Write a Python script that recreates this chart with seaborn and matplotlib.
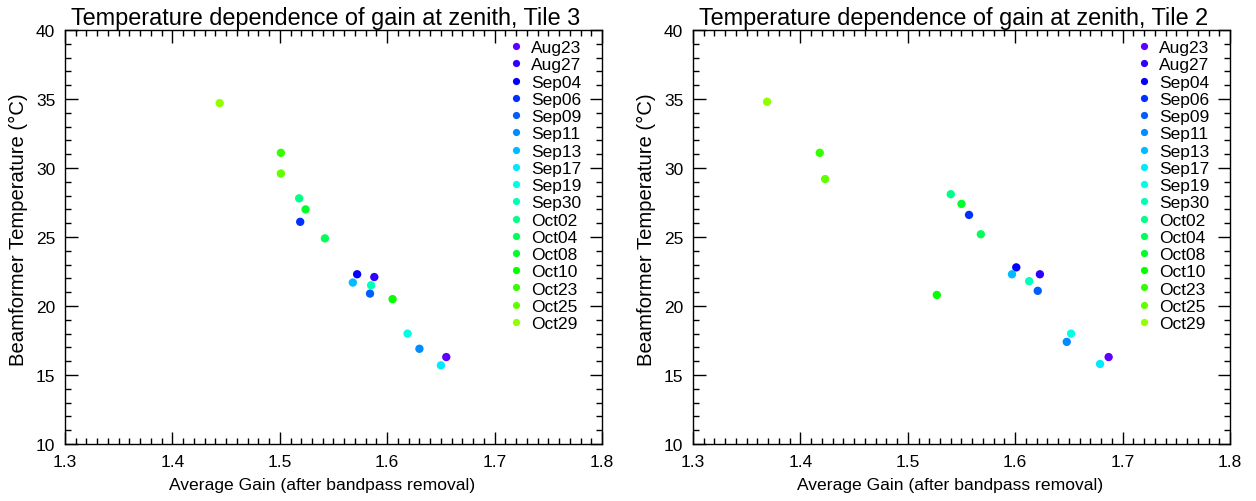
import numpy as np
import pandas as pd
import matplotlib
matplotlib.use("Agg")
import matplotlib.pyplot as plt
import seaborn as sns
from matplotlib.ticker import MultipleLocator
from matplotlib.lines import Line2D
import colorsys

dates = ["Aug23", "Aug27", "Sep04", "Sep06", "Sep09", "Sep11", "Sep13", "Sep17",
         "Sep19", "Sep30", "Oct02", "Oct04", "Oct08", "Oct10", "Oct23", "Oct25", "Oct29"]

tile3_gain = [1.655, 1.588, 1.572, 1.519, 1.584, 1.630, 1.568, 1.650,
              1.619, 1.585, 1.518, 1.542, 1.524, 1.605, 1.501, 1.501, 1.444]
tile3_temp = [16.3, 22.1, 22.3, 26.1, 20.9, 16.9, 21.7, 15.7,
              18.0, 21.5, 27.8, 24.9, 27.0, 20.5, 31.1, 29.6, 34.7]

tile2_gain = [1.687, 1.623, 1.601, 1.557, 1.621, 1.648, 1.597, 1.679,
              1.652, 1.613, 1.540, 1.568, 1.550, 1.527, 1.418, 1.423, 1.369]
tile2_temp = [16.3, 22.3, 22.8, 26.6, 21.1, 17.4, 22.3, 15.8,
              18.0, 21.8, 28.1, 25.2, 27.4, 20.8, 31.1, 29.2, 34.8]

titles = ["Temperature dependence of gain at zenith, Tile 3",
          "Temperature dependence of gain at zenith, Tile 2"]

# rainbow palette (violet -> yellow-green)
hues = np.linspace(262, 86, len(dates))
palette = {d: colorsys.hsv_to_rgb(h / 360.0, 1.0, 1.0) for d, h in zip(dates, hues)}

sns.set_style("white")
plt.rcParams['font.family'] = ['Liberation Sans', 'DejaVu Sans']
plt.rcParams['text.color'] = 'black'
plt.rcParams['axes.labelcolor'] = 'black'
plt.rcParams['xtick.color'] = 'black'
plt.rcParams['ytick.color'] = 'black'

fig = plt.figure(figsize=(12.56, 5.02), dpi=100)
W, H = 1256, 502
axes_px = [(65, 31, 537, 414), (693, 31, 537, 414)]

datasets = [(tile3_gain, tile3_temp), (tile2_gain, tile2_temp)]
for (lx, ty, w, h), (g, t), title in zip(axes_px, datasets, titles):
    ax = fig.add_axes([lx / W, (H - ty - h) / H, w / W, h / H])
    df = pd.DataFrame({"gain": g, "temp": t, "date": dates})
    sns.scatterplot(data=df, x="gain", y="temp", hue="date", palette=palette,
                    hue_order=dates, s=36, linewidth=0, ax=ax, legend=False)
    ax.set_xlim(1.3, 1.8)
    ax.set_ylim(10, 40)
    ax.xaxis.set_major_locator(MultipleLocator(0.1))
    ax.xaxis.set_minor_locator(MultipleLocator(0.01))
    ax.yaxis.set_major_locator(MultipleLocator(5))
    ax.yaxis.set_minor_locator(MultipleLocator(1))
    ax.set_xticks(np.arange(1.3, 1.81, 0.1))
    ax.set_xticklabels(["1.3", "1.4", "1.5", "1.6", "1.7", "1.8"])
    ax.tick_params(which="both", direction="in", top=True, right=True,
                   bottom=True, left=True, color="black", width=1.0)
    ax.tick_params(which="major", length=9, labelsize=12.5, pad=7)
    ax.tick_params(which="minor", length=4)
    for sp in ax.spines.values():
        sp.set_color("black")
        sp.set_linewidth(1.0)
    ax.set_xlabel("Average Gain (after bandpass removal)", fontsize=12.6)
    ax.set_ylabel("Beamformer Temperature (°C)", fontsize=14.6)
    ax.xaxis.set_label_coords(0.478, -0.08, transform=ax.transAxes)
    ax.yaxis.set_label_coords(-0.068, 0.519, transform=ax.transAxes)
    ax.set_title(title, fontsize=16.9, pad=4, x=0.486)

    handles = [Line2D([0], [0], marker="o", linestyle="none", markersize=5.2,
                      markerfacecolor=palette[d], markeredgewidth=0) for d in dates]
    ax.legend(handles, dates, loc="upper right", frameon=False, fontsize=12.5,
              handlelength=0.6, handletextpad=0.6, labelspacing=0.12,
              borderaxespad=0.3, bbox_to_anchor=(0.985, 1.005))

fig.savefig("out.png", dpi=100)
